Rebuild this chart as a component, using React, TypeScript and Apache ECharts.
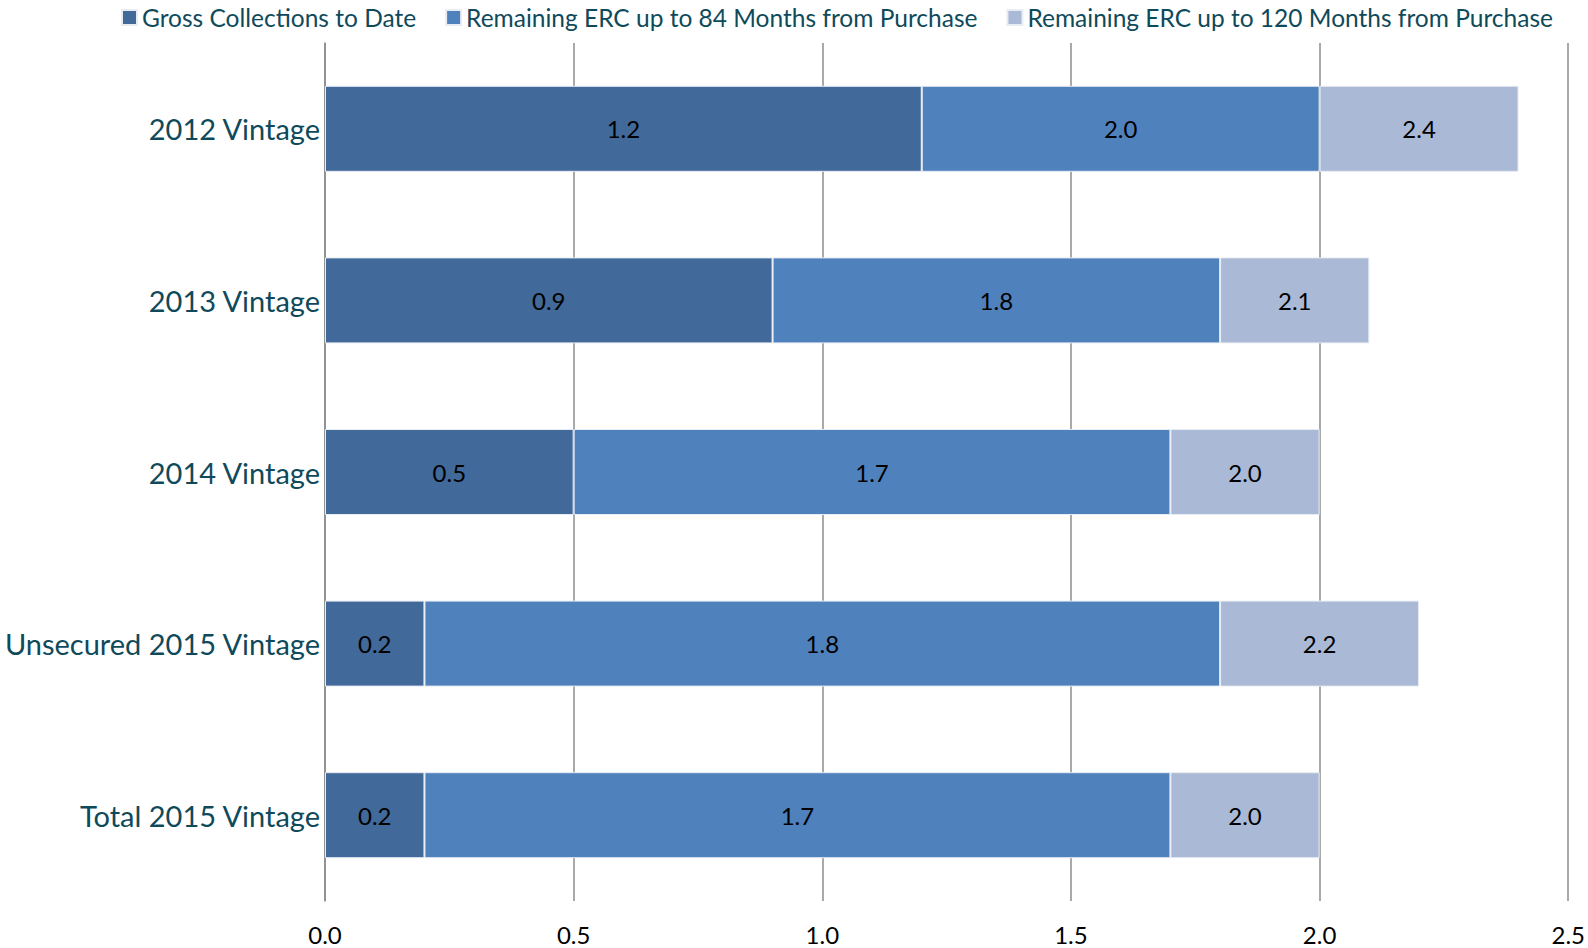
import React, { useEffect, useRef } from "react";
import * as echarts from "echarts";

const categories = ["2012 Vintage", "2013 Vintage", "2014 Vintage", "Unsecured 2015 Vintage", "Total 2015 Vintage"];
const seriesNames = [
  "Gross Collections to Date",
  "Remaining ERC up to 84 Months from Purchase",
  "Remaining ERC up to 120 Months from Purchase",
];
// cumulative values as labelled on the bars
const grossCollections = [1.2, 0.9, 0.5, 0.2, 0.2];
const erc84Cumulative = [2.0, 1.8, 1.7, 1.8, 1.7];
const erc120Cumulative = [2.4, 2.1, 2.0, 2.2, 2.0];
const xTicks = { min: 0, max: 2.5, interval: 0.5 };

const colors = ["#41699A", "#4F81BD", "#AAB9D6"];
const textColor = "#0F4A5B";
const FONT = "Lato, 'Open Sans', sans-serif";

export default function App() {
  const ref = useRef<HTMLDivElement>(null);
  useEffect(() => {
    if (!ref.current) return;
    const chart = echarts.init(ref.current, null, { renderer: "svg" });
    const cumul = [grossCollections, erc84Cumulative, erc120Cumulative];
    const segs = [
      grossCollections,
      erc84Cumulative.map((v, i) => +(v - grossCollections[i]).toFixed(4)),
      erc120Cumulative.map((v, i) => +(v - erc84Cumulative[i]).toFixed(4)),
    ];
    chart.setOption({
      animation: false,
      textStyle: { fontFamily: FONT },
      legend: {
        left: 116,
        top: 0,
        itemWidth: 15,
        itemHeight: 15,
        itemGap: 29,
        icon: "rect",
        textStyle: { color: textColor, fontSize: 24.5, fontFamily: FONT },
        data: seriesNames,
      },
      grid: { left: 325, right: 19, top: 43, bottom: 47, containLabel: false },
      xAxis: {
        type: "value",
        min: xTicks.min,
        max: xTicks.max,
        interval: xTicks.interval,
        axisLine: { show: false },
        axisTick: { show: false },
        splitLine: { show: true, lineStyle: { color: "#8C8C8C", width: 1.5 } },
        axisLabel: {
          color: "#000",
          fontSize: 24,
          margin: 21,
          fontFamily: FONT,
          formatter: (v: number) => v.toFixed(1),
        },
      },
      yAxis: {
        type: "category",
        data: categories,
        inverse: true,
        axisLine: { show: true, lineStyle: { color: "#8C8C8C", width: 1.5 } },
        axisTick: { show: false },
        axisLabel: { color: textColor, fontSize: 29, margin: 5, fontFamily: FONT },
      },
      series: seriesNames.map((name, si) => ({
        name,
        type: "bar",
        stack: "total",
        barWidth: 86,
        itemStyle: { color: colors[si], borderColor: "#E8ECF3", borderWidth: 1 },
        label: {
          show: true,
          position: "inside",
          color: "#000",
          fontSize: 24,
          fontFamily: FONT,
          formatter: (p: any) => cumul[si][p.dataIndex].toFixed(1),
        },
        data: segs[si],
      })),
    });
    return () => chart.dispose();
  }, []);
  return <div ref={ref} style={{ width: 1588, height: 948, position: "absolute", left: 0, top: 0, background: "#fff" }} />;
}
